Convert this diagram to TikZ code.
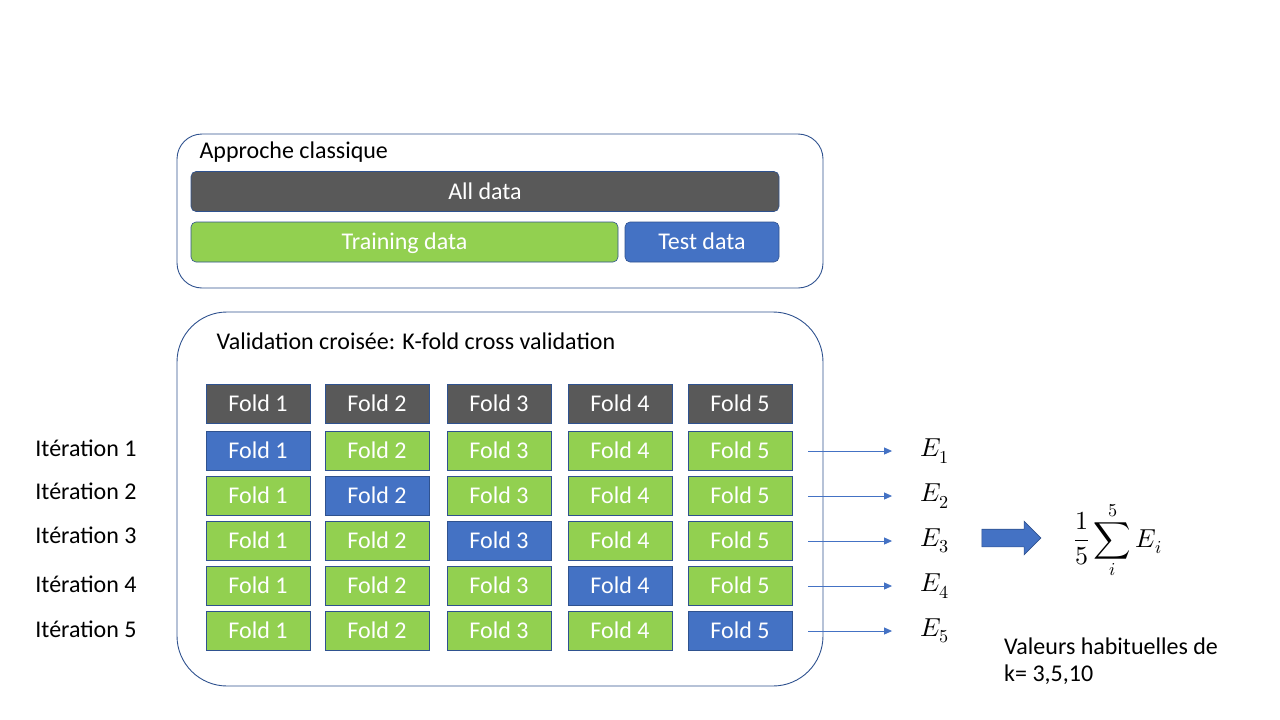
\documentclass[tikz,border=0pt]{standalone}
\usepackage{fontspec}
\usepackage{unicode-math}
\setmainfont{Carlito}
\setmathfont{Latin Modern Math}
\usetikzlibrary{positioning,arrows.meta,shapes.arrows}
\definecolor{alldark}{HTML}{595959}
\definecolor{traingreen}{HTML}{92D050}
\definecolor{testblue}{HTML}{4472C4}
\definecolor{edgeblue}{HTML}{2F528F}

\begin{document}
\begin{tikzpicture}[x=1pt,y=-1pt, every node/.style={font=\fontsize{24}{27}\selectfont},
  panel/.style={draw=edgeblue,line width=0.9pt,inner sep=0pt},
  bar/.style={draw=edgeblue,line width=0.6pt,rounded corners=5pt,text=white,minimum height=40pt,inner sep=0pt,text height=18pt,text depth=3pt},
  fold/.style={draw=edgeblue,line width=0.8pt,text=white,minimum width=104pt,minimum height=39pt,inner sep=0pt,text height=18pt,text depth=3pt},
  >={Triangle[length=8pt,width=7pt]}]
  \useasboundingbox (0,0) rectangle (1280,720);
  % approche classique
  \node[panel,rounded corners=25pt,minimum width=646pt,minimum height=154pt] (classic) at (500,211) {};
  \node[anchor=west] (classictitle) at (196,152) {Approche classique};
  \node[bar,fill=alldark,minimum width=588pt] (all) at (485,191.5) {All data};
  \node[bar,fill=traingreen,minimum width=427pt] (train) at (404.5,242) {Training data};
  \node[bar,fill=testblue,minimum width=154pt] (test) at (702,242) {Test data};
  % k-fold
  \node[panel,rounded corners=50pt,minimum width=646pt,minimum height=374pt] (kfold) at (500,499) {};
  \node[anchor=west] (kfoldtitle) at (213,341) {Validation croisée: K-fold cross validation};
  \foreach \c/\x in {1/258,2/377,3/499,4/620,5/740}{
    \node[fold,fill=alldark] (h\c) at (\x,404) {Fold \c};
    \foreach \r/\y in {1/451,2/496,3/541,4/586,5/631}{
      \ifnum\c=\r\relax \def\fc{testblue}\else \def\fc{traingreen}\fi
      \node[fold,fill=\fc] (f\r\c) at (\x,\y) {Fold \c};
    }
  }
  \foreach \r/\y/\ly in {1/451/448,2/496/491,3/541/535,4/586/584,5/631/629}{
    \node (it\r) at (86,\ly) {Itération \r};
    \node[font=\fontsize{26}{28}\selectfont] (e\r) at (935,\y) {$E_\r$};
    \draw[testblue,line width=0.9pt,->] ([xshift=16pt]f\r5.east) -- ([xshift=-25pt]e\r.west);
  }
  % moyenne
  \node[single arrow,fill=testblue,draw=edgeblue,line width=0.6pt,inner xsep=0pt,inner ysep=8.5pt,
    minimum height=59pt,single arrow head extend=8pt] (mean) at (1007,538) {};
  \node[font=\fontsize{26}{28}\selectfont] (formula) at (1118,540) {$\displaystyle\frac{1}{5}\sum_{i}^{5}E_i$};
  \node[anchor=north west,align=left,inner sep=0pt] (kvalues) at (1004,638) {Valeurs habituelles de\\k= 3,5,10};
\end{tikzpicture}
\end{document}
